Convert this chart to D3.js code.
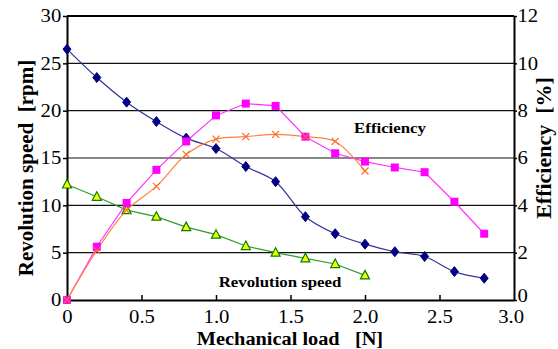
<!DOCTYPE html>
<html><head><meta charset="utf-8">
<script src="https://cdn.jsdelivr.net/npm/d3@7"></script>
<style>body{margin:0;background:#fff}svg{display:block}</style>
</head><body>
<script>
const loads = [0,0.2,0.4,0.6,0.8,1.0,1.2,1.4,1.6,1.8,2.0,2.2,2.4,2.6,2.8];
const speedBlue = [26.5,23.5,20.9,18.85,17.1,16.0,14.1,12.5,8.8,7.0,5.9,5.1,4.6,3.0,2.3];
const speedGreen = [12.2,10.9,9.5,8.8,7.7,6.9,5.7,5.0,4.4,3.8,2.6];
const effMagenta = [0,2.25,4.1,5.5,6.7,7.8,8.3,8.2,6.9,6.2,5.85,5.6,5.4,4.15,2.8];
const effOrange = [0,2.1,3.8,4.8,6.15,6.8,6.9,7.0,6.9,6.7,5.45];
const xTicks = [0,0.5,1.0,1.5,2.0,2.5,3.0];
const xTickLabels = ["0","0.5","1.0","1.5","2.0","2.5","3.0"];
const leftTicks = [0,5,10,15,20,25,30];
const rightTicks = [0,2,4,6,8,10,12];

const W=558,H=349;
const m={l:67,r:44,t:16,b:49};
const FONT="Liberation Serif";
const svg=d3.select("body").append("svg").attr("width",W).attr("height",H);
const x=d3.scaleLinear().domain([0,3]).range([m.l,W-m.r]);
const yL=d3.scaleLinear().domain([0,30]).range([H-m.b,m.t]);
const yR=d3.scaleLinear().domain([0,12]).range([H-m.b,m.t]);

// gridlines
svg.append("g").selectAll("line").data(leftTicks.filter(d=>d>0&&d<30)).join("line")
 .attr("x1",x(0)).attr("x2",x(3)).attr("y1",d=>yL(d)).attr("y2",d=>yL(d))
 .attr("stroke","#111").attr("stroke-width",1.2);
svg.append("line").attr("x1",x(0)).attr("x2",x(3)).attr("y1",yL(30)).attr("y2",yL(30)).attr("stroke","#000").attr("stroke-width",2);

// axes
const gx=svg.append("g").attr("transform",`translate(0,${yL(0)})`)
 .call(d3.axisBottom(x).tickValues(xTicks).tickFormat((d,i)=>xTickLabels[i]).tickSizeInner(-5).tickSizeOuter(0).tickPadding(10));
const gl=svg.append("g").attr("transform",`translate(${x(0)},0)`)
 .call(d3.axisLeft(yL).tickValues(leftTicks).tickSizeInner(4).tickSizeOuter(0).tickPadding(1));
const gr=svg.append("g").attr("transform",`translate(${x(3)},0)`)
 .call(d3.axisRight(yR).tickValues(rightTicks).tickSizeInner(3).tickSizeOuter(0).tickPadding(0));
[gx,gl,gr].forEach(g=>{
 g.attr("font-family",FONT).attr("font-size",18);
 g.select(".domain").attr("stroke","#000").attr("stroke-width",2);
 g.selectAll(".tick line").attr("stroke","#000").attr("stroke-width",1.5);
 g.selectAll("text").attr("fill","#000").attr("font-family",FONT).attr("font-size",18)
  .attr("transform","scale(1.15,1)");
});
gx.selectAll(".tick text").filter(d=>d===3).attr("dx",-3);
gx.selectAll(".tick line").filter(d=>d===0||d===3).remove();
gr.selectAll(".tick text").filter(d=>d===0).attr("dy","0.1em");

// lines
const lineBlue=d3.line().x((d,i)=>x(loads[i])).y(d=>yL(d)).curve(d3.curveCatmullRom);
svg.append("path").datum(speedBlue).attr("d",lineBlue).attr("fill","none").attr("stroke","#333399").attr("stroke-width",1.2);
const lineGreen=d3.line().x((d,i)=>x(loads[i])).y(d=>yL(d));
svg.append("path").datum(speedGreen).attr("d",lineGreen).attr("fill","none").attr("stroke","#2f9a2f").attr("stroke-width",1.2);
const lineMag=d3.line().x((d,i)=>x(loads[i])).y(d=>yR(d));
svg.append("path").datum(effMagenta).attr("d",lineMag).attr("fill","none").attr("stroke","#ff33ff").attr("stroke-width",1.2);
const lineOr=d3.line().x((d,i)=>x(loads[i])).y(d=>yR(d)).curve(d3.curveCatmullRom);
svg.append("path").datum(effOrange).attr("d",lineOr).attr("fill","none").attr("stroke","#ff8040").attr("stroke-width",1.2);

// markers
svg.append("g").selectAll("path").data(speedBlue).join("path")
 .attr("transform",(d,i)=>`translate(${x(loads[i])},${yL(d)})`)
 .attr("d","M0,-5L4,0L0,5L-4,0Z").attr("fill","#000080").attr("stroke","#000080");
svg.append("g").selectAll("path").data(speedGreen).join("path")
 .attr("transform",(d,i)=>`translate(${x(loads[i])},${yL(d)})`)
 .attr("d","M0,-5L4.5,3.5L-4.5,3.5Z").attr("fill","#ffff00").attr("stroke","#008000").attr("stroke-width",1.2);
svg.append("g").selectAll("rect").data(effMagenta).join("rect")
 .attr("x",(d,i)=>x(loads[i])-4).attr("y",d=>yR(d)-4).attr("width",8).attr("height",8)
 .attr("fill","#ff00ff");
svg.append("g").selectAll("path").data(effOrange).join("path")
 .attr("transform",(d,i)=>`translate(${x(loads[i])},${yR(d)})`)
 .attr("d","M-3.5,-3.5L3.5,3.5M-3.5,3.5L3.5,-3.5").attr("stroke","#ff6a20").attr("stroke-width",1.2);

// labels
function lab(tx,ty,rot,sx,size,txt){
 svg.append("text").attr("transform",`translate(${tx},${ty}) rotate(${rot}) scale(${sx},1)`).attr("text-anchor","middle")
  .attr("font-family",FONT).attr("font-weight","bold").attr("font-size",size).attr("fill","#000")
  .style("white-space","pre").text(txt);
}
lab(390,133,0,1.12,15,"Efficiency");
lab(280,287,0,1.12,15,"Revolution speed");
lab(290,345,0,1.13,18,"Mechanical load   [N]");
lab(33,168,-90,1,21,"Revolution speed  [rpm]");
lab(551,148,-90,1,22,"Efficiency  [%]");
</script>
</body></html>
